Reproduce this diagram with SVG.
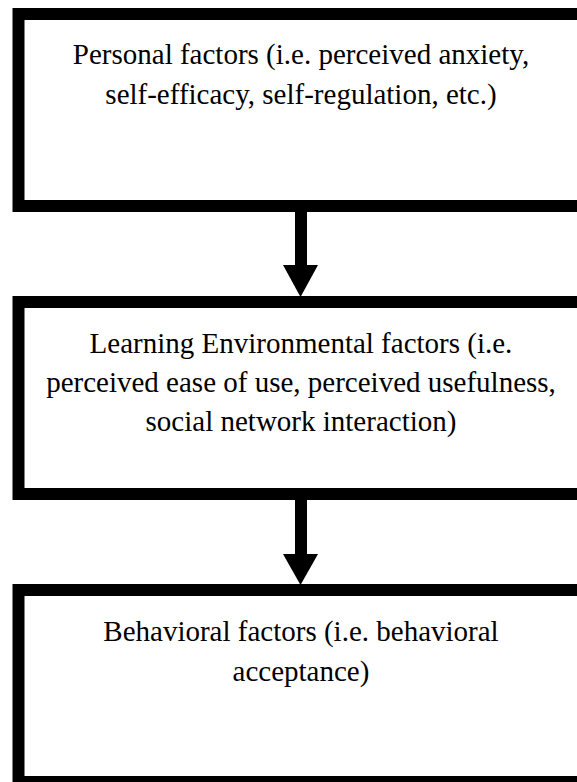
<svg xmlns="http://www.w3.org/2000/svg" width="577" height="782" viewBox="0 0 577 782">
<style>
.box{fill:#fff;stroke:#000;stroke-width:12}
.t{font-family:"Liberation Serif","Times New Roman",serif;font-size:29px;fill:#000;text-anchor:middle}
.shaft{stroke:#000;stroke-width:12;fill:none}
.head{fill:#000}
</style>
<rect width="577" height="782" fill="#fff"/>
<g id="node-personal">
<rect class="box" x="18.5" y="14" width="600" height="192"/>
<text class="t" x="301" y="64">Personal factors (i.e. perceived anxiety,</text>
<text class="t" x="301" y="104">self-efficacy, self-regulation, etc.)</text>
</g>
<g id="node-environment">
<rect class="box" x="18.5" y="302" width="600" height="192"/>
<text class="t" x="301" y="353">Learning Environmental factors (i.e.</text>
<text class="t" x="301" y="392">perceived ease of use, perceived usefulness,</text>
<text class="t" x="301" y="431">social network interaction)</text>
</g>
<g id="node-behavior">
<rect class="box" x="18.5" y="590" width="600" height="192"/>
<text class="t" x="301" y="641">Behavioral factors (i.e. behavioral</text>
<text class="t" x="301" y="681">acceptance)</text>
</g>
<g id="connectors">
<line class="shaft" x1="301" y1="212" x2="301" y2="266"/>
<polygon class="head" points="283,265 318,265 300.5,297"/>
<line class="shaft" x1="301" y1="500" x2="301" y2="555"/>
<polygon class="head" points="283,554 318,554 300.5,585"/>
</g>
</svg>
